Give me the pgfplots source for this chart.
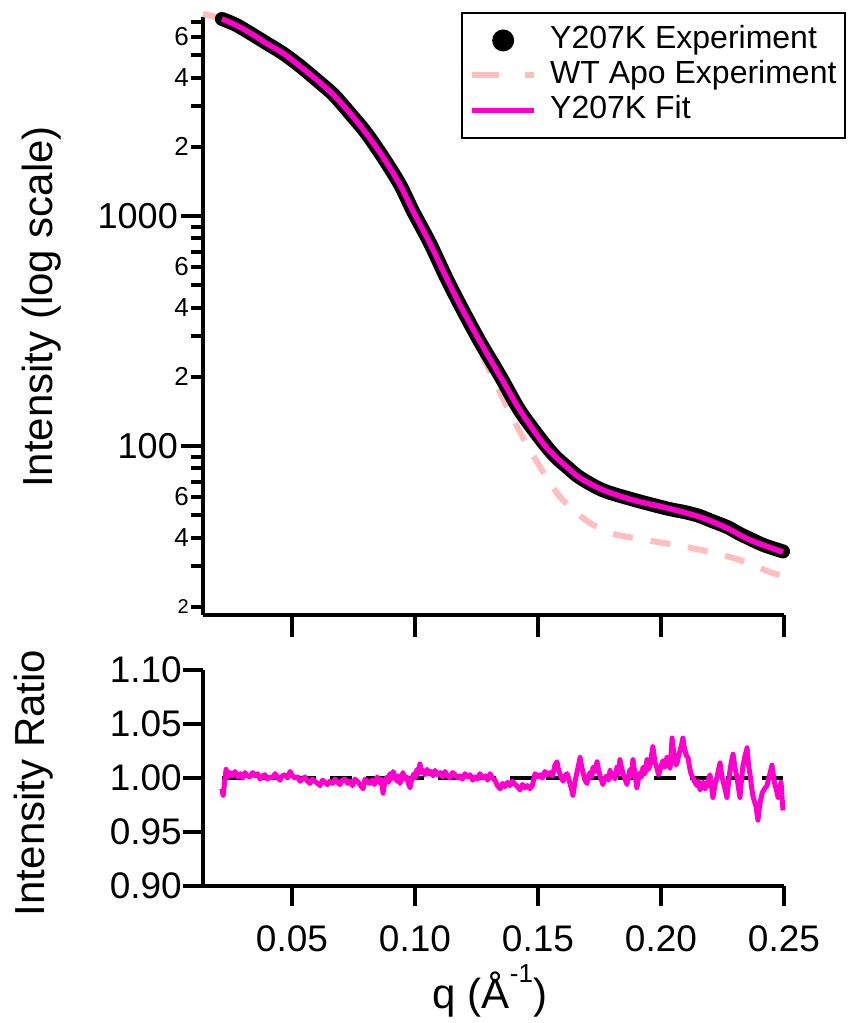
\documentclass[border=0pt]{standalone}
\usepackage{pgfplots}
\pgfplotsset{compat=1.18}
\usepackage{fontspec}
\setmainfont{Liberation Sans}
\definecolor{magc}{RGB}{255,0,204}
\definecolor{pinkc}{RGB}{255,190,190}

\pgfplotstableread{
q I
0.0215 7190
0.0270 6780
0.0330 6250
0.0400 5600
0.0463 5110
0.0530 4500
0.0602 3900
0.0670 3350
0.0736 2800
0.0800 2300
0.0870 1805
0.0939 1366
0.0992 1050
0.1061 760
0.1122 555
0.1183 410
0.1264 285
0.1346 201
0.1427 143
0.1520 103
0.1570 90
0.1618 81
0.1671 72.6
0.1764 64.4
0.1886 58.2
0.2024 53.8
0.2159 49.1
0.2268 44.0
0.2362 39.0
0.2496 34.6
}\fittable

\pgfplotstableread{
q I
0.0215 7190
0.0270 6800
0.0330 6240
0.0400 5610
0.0463 5100
0.0530 4510
0.0602 3890
0.0670 3360
0.0736 2790
0.0800 2310
0.0870 1800
0.0939 1370
0.0992 1048
0.1061 762
0.1122 553
0.1183 411
0.1264 284
0.1346 202
0.1427 142
0.1520 104
0.1570 90
0.1618 81
0.1671 72.8
0.1764 64.2
0.1886 58.5
0.2024 53.5
0.2100 51.5
0.2159 49.5
0.2200 47.5
0.2268 44.5
0.2320 41.5
0.2362 39.5
0.2420 37.0
0.2496 34.8
}\exptable

\pgfplotstableread{
q I
0.0138 7550
0.0215 7190
0.0330 6250
0.0463 5110
0.0602 3900
0.0736 2800
0.0870 1805
0.0992 1050
0.1061 760
0.1122 550
0.1183 402
0.1230 310
0.1276 244
0.1374 148
0.1467 96
0.1577 62.5
0.1650 52
0.1711 46.3
0.1790 42
0.1862 40.3
0.2008 37.9
0.2159 35.4
0.2293 32.6
0.2370 30.5
0.2443 28.3
0.2484 27.5
}\wttable

\pgfplotstableread{
q r
0.0215 0.990
0.0220 0.984
0.0232 1.008
0.0240 1.001
0.0248 1.005
0.0258 1.002
0.0268 1.006
0.0279 1.001
0.0289 1.004
0.0299 1.000
0.0309 1.005
0.0319 1.002
0.0329 1.001
0.0340 1.005
0.0350 1.002
0.0360 1.004
0.0370 0.999
0.0380 1.002
0.0390 1.003
0.0400 0.999
0.0411 1.001
0.0421 1.000
0.0431 1.004
0.0441 1.001
0.0451 0.998
0.0461 1.002
0.0472 1.003
0.0482 1.000
0.0492 1.006
0.0502 1.002
0.0512 1.000
0.0523 1.001
0.0533 0.997
0.0543 0.999
0.0553 1.001
0.0563 0.997
0.0573 0.995
0.0583 0.999
0.0593 0.997
0.0604 0.995
0.0614 0.993
0.0624 0.998
0.0634 0.996
0.0644 0.994
0.0654 0.997
0.0665 0.995
0.0675 0.999
0.0685 0.996
0.0695 0.994
0.0705 0.998
0.0715 0.999
0.0726 0.995
0.0736 0.997
0.0746 0.993
0.0756 0.999
0.0766 0.997
0.0776 0.994
0.0789 0.990
0.0797 0.999
0.0805 0.997
0.0815 0.995
0.0825 0.998
0.0835 0.994
0.0846 1.001
0.0858 0.995
0.0864 0.999
0.0870 0.986
0.0878 0.997
0.0886 1.001
0.0892 0.996
0.0898 1.004
0.0904 0.999
0.0911 1.006
0.0919 1.001
0.0927 0.997
0.0933 1.002
0.0939 0.995
0.0945 1.000
0.0951 1.005
0.0959 0.999
0.0967 1.001
0.0973 0.995
0.0980 0.991
0.0988 1.000
0.0996 1.004
0.1002 1.000
0.1008 1.008
0.1014 1.004
0.1020 1.013
0.1027 1.005
0.1033 1.007
0.1041 1.003
0.1049 1.008
0.1057 1.004
0.1065 1.006
0.1073 1.002
0.1081 1.007
0.1092 1.003
0.1102 1.005
0.1112 1.001
0.1122 1.006
0.1132 1.002
0.1142 1.000
0.1153 1.005
0.1163 1.003
0.1173 1.000
0.1183 1.002
0.1193 0.999
0.1203 1.004
0.1214 1.001
0.1224 1.003
0.1234 0.998
0.1244 1.001
0.1254 0.999
0.1264 1.004
0.1275 1.000
0.1285 1.002
0.1295 0.998
0.1305 1.004
0.1315 1.000
0.1325 0.998
0.1335 0.993
0.1346 0.990
0.1356 0.995
0.1366 0.992
0.1376 0.996
0.1386 0.993
0.1396 0.997
0.1407 0.994
0.1417 0.992
0.1427 0.989
0.1437 0.994
0.1447 0.991
0.1457 0.993
0.1467 0.990
0.1477 0.993
0.1488 1.004
0.1498 1.001
0.1508 1.003
0.1518 1.000
0.1528 1.006
0.1538 1.003
0.1549 1.005
0.1559 1.002
0.1569 1.012
0.1577 1.015
0.1583 1.008
0.1589 1.004
0.1596 1.000
0.1602 0.997
0.1610 1.002
0.1618 1.004
0.1624 1.000
0.1630 0.995
0.1636 0.990
0.1642 0.984
0.1650 0.996
0.1659 1.006
0.1665 1.012
0.1671 1.019
0.1677 1.011
0.1683 1.005
0.1691 0.998
0.1699 0.995
0.1705 1.001
0.1711 1.005
0.1718 1.001
0.1724 1.010
0.1732 1.006
0.1740 1.015
0.1746 1.008
0.1752 1.002
0.1758 0.998
0.1764 0.994
0.1772 1.000
0.1780 1.002
0.1786 0.998
0.1793 1.007
0.1799 1.001
0.1805 1.004
0.1813 0.999
0.1821 1.010
0.1827 1.004
0.1833 1.017
0.1840 1.009
0.1846 1.004
0.1854 0.999
0.1862 0.994
0.1868 1.001
0.1874 1.008
0.1880 1.002
0.1886 1.017
0.1894 1.004
0.1902 0.991
0.1908 0.999
0.1915 1.005
0.1921 1.001
0.1927 1.010
0.1935 1.004
0.1943 1.017
0.1949 1.008
0.1955 1.012
0.1961 1.020
0.1967 1.029
0.1976 1.014
0.1984 1.009
0.1990 1.003
0.1996 1.007
0.2002 1.012
0.2008 1.016
0.2016 1.010
0.2024 1.019
0.2030 1.012
0.2037 1.009
0.2041 1.022
0.2045 1.037
0.2051 1.025
0.2057 1.018
0.2061 1.012
0.2065 1.014
0.2071 1.020
0.2077 1.025
0.2083 1.030
0.2089 1.037
0.2095 1.028
0.2102 1.021
0.2110 1.019
0.2116 1.010
0.2122 1.004
0.2130 1.000
0.2138 0.996
0.2146 0.993
0.2152 0.997
0.2159 0.989
0.2165 0.993
0.2171 0.996
0.2179 0.990
0.2187 0.993
0.2193 0.999
0.2199 1.003
0.2205 0.993
0.2211 0.982
0.2220 0.994
0.2228 1.001
0.2234 1.008
0.2240 1.014
0.2246 1.004
0.2252 0.997
0.2260 0.990
0.2268 0.982
0.2274 0.995
0.2280 1.006
0.2286 1.015
0.2293 1.022
0.2301 1.009
0.2309 1.000
0.2315 0.991
0.2321 0.982
0.2327 0.998
0.2333 1.011
0.2341 1.020
0.2350 1.028
0.2356 1.012
0.2362 1.003
0.2368 0.992
0.2374 0.983
0.2380 0.978
0.2386 0.974
0.2394 0.961
0.2402 0.976
0.2411 0.986
0.2421 0.990
0.2431 0.993
0.2437 0.999
0.2443 1.004
0.2451 1.012
0.2457 1.002
0.2463 0.994
0.2470 0.988
0.2476 0.982
0.2482 0.990
0.2488 0.996
0.2492 0.982
0.2496 0.970
}\ratiotable

\pgfplotsset{
  mystyle/.style={
    scale only axis, width=581pt,
    axis lines=left, axis line style={-, line width=4.5pt, black},
    tick align=outside,
    tick style={black, line width=4pt},
    major tick length=22pt, minor tick length=12pt,
    xmin=0.01382, xmax=0.25,
    xtick={0.05,0.10,0.15,0.20,0.25},
    clip=false,
    label style={font=\fontsize{42}{42}\selectfont},
  }
}

\begin{document}
\begin{tikzpicture}[x=1pt,y=1pt]
\path[use as bounding box] (0,0) rectangle (849,1023);

\begin{axis}[mystyle, at={(203pt,408pt)}, anchor=south west, height=598pt,
  ymode=log, ymin=18.42, ymax=7333,
  xticklabels={},
  ytick={100,1000}, yticklabels={100,1000},
  minor ytick={30,50,70,80,90,300,500,700,800,900,3000,5000,7000},
  extra y ticks={20,40,60,200,400,600,2000,4000,6000},
  extra y tick labels={{\fontsize{20}{20}\selectfont 2},4,6,2,4,6,2,4,6},
  extra y tick style={major tick length=12pt, yticklabel style={font=\fontsize{26}{26}\selectfont, inner xsep=2pt}},
  yticklabel style={font=\fontsize{36}{36}\selectfont, inner xsep=3pt},
  ylabel={Intensity (log scale)},
  ylabel style={at={(axis description cs:-0.2582,0.515)}, anchor=base},
  legend style={at={(axis description cs:1.1067,1.0084)}, anchor=north east,
    draw=black, line width=2pt, font=\fontsize{32}{36}\selectfont,
    inner xsep=7.5pt, inner ysep=10.5pt, row sep=1pt,
    nodes={inner sep=1pt, text height=24pt, text depth=8pt},
    /tikz/every odd column/.append style={column sep=12pt}},
  legend cell align=left,
]
\addplot[pinkc, line width=6pt, dash pattern=on 20pt off 18pt, smooth, forget plot] table[x=q,y=I] {\wttable};
\addplot[black, line width=14pt, line cap=round, line join=round, smooth, forget plot] table[x=q,y=I] {\exptable};
\addplot[magc, line width=5.5pt, smooth, forget plot] table[x=q,y=I] {\fittable};
\addlegendimage{legend image code/.code={\fill[black, draw=none] (31pt,0pt) circle (11pt); \path[draw=none] (0pt,0pt) -- (62pt,0pt);}}
\addlegendentry{Y207K Experiment}
\addlegendimage{legend image code/.code={\draw[pinkc, line width=6pt] (0pt,0pt) -- (27pt,0pt); \draw[pinkc, line width=6pt] (53pt,0pt) -- (62pt,0pt);}}
\addlegendentry{WT Apo Experiment}
\addlegendimage{legend image code/.code={\draw[magc, line width=5pt] (0pt,0pt) -- (62pt,0pt);}}
\addlegendentry{Y207K Fit}
\end{axis}

\begin{axis}[mystyle, at={(203pt,137pt)}, anchor=south west, height=216pt,
  major tick length=20pt,
  ymin=0.9, ymax=1.1,
  ytick={0.9,0.95,1,1.05,1.1}, yticklabels={0.90,0.95,1.00,1.05,1.10},
  xticklabels={0.05,0.10,0.15,0.20,0.25},
  ticklabel style={font=\fontsize{37}{37}\selectfont},
  yticklabel style={inner xsep=1pt},
  xticklabel style={yshift=-16pt},
  ylabel={Intensity Ratio},
  ylabel style={at={(axis description cs:-0.272,0.477)}, anchor=base},
  xlabel={q (Å\raisebox{0.62em}{\fontsize{26}{26}\selectfont -1})},
  xlabel style={at={(axis description cs:0.494,-0.565)}, anchor=base},
]
\addplot[black, line width=4pt, dash pattern=on 22pt off 14pt] coordinates {(0.0215,1) (0.2496,1)};
\addplot[magc, line width=5pt, line join=round] table[x=q,y=r] {\ratiotable};
\end{axis}
\end{tikzpicture}
\end{document}
